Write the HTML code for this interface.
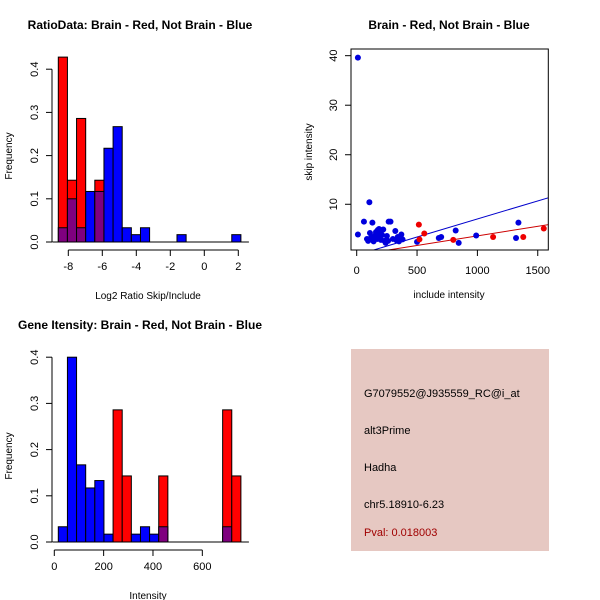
<!DOCTYPE html>
<html><head><meta charset="utf-8"><style>
body{margin:0;background:#fff}
svg{display:block;font-family:"Liberation Sans",sans-serif}
</style></head><body>
<svg id="c" width="600" height="600" viewBox="0 0 600 600">
<rect width="600" height="600" fill="#fff"/>
<g id="p1"></g>
<g id="p2"></g>
<g id="p3"></g>
<g>
<rect x="351" y="349" width="198" height="202" fill="#e6c8c2"/>
<text x="364" y="397" font-size="11">G7079552@J935559_RC@i_at</text>
<text x="364" y="434" font-size="11">alt3Prime</text>
<text x="364" y="471" font-size="11">Hadha</text>
<text x="364" y="508" font-size="11">chr5.18910-6.23</text>
<text x="364" y="536" font-size="11" fill="#a00000">Pval: 0.018003</text>
</g>
</svg>
<script>
// Ratio histogram data (20 bins)
const ratioRed = [0.428,0.143,0.286,0,0.143,0,0,0,0,0,0,0,0,0,0,0,0,0,0,0];
const ratioBlue = [0.033,0.1,0.033,0.117,0.117,0.217,0.267,0.033,0.017,0.033,0,0,0,0.017,0,0,0,0,0,0.017];
const ratioXTicks = [-8,-6,-4,-2,0,2];
const freqTicks1 = [0.0,0.1,0.2,0.3,0.4];
// Intensity histogram data (20 bins)
const intRed = [0,0,0,0,0,0,0.286,0.143,0,0,0,0.143,0,0,0,0,0,0,0.286,0.143];
const intBlue = [0.033,0.4,0.167,0.117,0.133,0.017,0,0,0.017,0.033,0.017,0.033,0,0,0,0,0,0,0.033,0];
const intXTicks = [0,200,400,600];
const freqTicks3 = [0.0,0.1,0.2,0.3,0.4];
// Scatter data
const blueX = [10,10,60,105,130,265,85,95,110,120,140,150,160,170,175,180,185,190,200,210,220,230,240,250,260,280,300,320,330,340,350,370,380,140,200,160,500,680,700,820,845,990,1320,1340];
const blueY = [39.6,3.9,6.5,10.4,6.3,6.5,3.0,2.6,4.2,3.3,2.8,3.6,4.4,3.0,4.8,3.9,5.0,3.4,4.7,3.8,4.9,2.6,2.2,3.6,2.6,6.5,3.0,4.6,2.7,3.4,2.5,3.9,2.9,2.5,2.8,4.0,2.4,3.2,3.4,4.7,2.2,3.7,3.2,6.3];
const redX = [515,520,560,800,1130,1380,1550];
const redY = [5.9,2.9,4.1,2.8,3.4,3.4,5.1];
const blueLine = [-0.26,0.00729];
const redLine = [-0.25,0.00387];
const scXTicks = [0,500,1000,1500];
const scYTicks = [10,20,30,40];

const NS="http://www.w3.org/2000/svg";
function mk(parent,tag,attrs){const e=document.createElementNS(NS,tag);for(const k in attrs)e.setAttribute(k,attrs[k]);parent.appendChild(e);return e;}
function txt(parent,x,y,s,size,extra){const t=mk(parent,'text',Object.assign({x:x,y:y,'font-size':size,'text-anchor':'middle'},extra||{}));t.textContent=s;return t;}

function hist(g,red,blue,x0,bw,yBase,pxPer01,xt,xScale,yt,title,xlabel,axisY){
  txt(g,140,29,title,12,{'font-weight':'bold'});
  for(let i=0;i<red.length;i++){
    const r=red[i],b=blue[i],m=Math.min(r,b),x=x0+i*bw;
    const h=v=>v/0.1*pxPer01;
    if(r>b){const e=mk(g,'rect',{x:x,y:yBase-h(r),width:bw,height:h(r),fill:'#ff0000',stroke:'#000','stroke-width':1});
      }
    else if(b>0){const e=mk(g,'rect',{x:x,y:yBase-h(b),width:bw,height:h(b),fill:'#0000ff',stroke:'#000','stroke-width':1});
      }
    if(m>0){const e=mk(g,'rect',{x:x,y:yBase-h(m),width:bw,height:h(m),fill:'#7f007f',stroke:'#000','stroke-width':1});
      }
  }
  mk(g,'line',{x1:x0-6,x2:x0+red.length*bw+8,y1:yBase,y2:yBase,stroke:'#000'});
  // y axis
  const ya=mk(g,'g',{});
  mk(ya,'line',{x1:52,x2:52,y1:yBase,y2:yBase-yt[yt.length-1]/0.1*pxPer01,stroke:'#000'});
  yt.forEach(v=>{const y=yBase-v/0.1*pxPer01;mk(ya,'line',{x1:46,x2:52,y1:y,y2:y,stroke:'#000'});
    txt(ya,0,0,v.toFixed(1),11,{transform:`translate(38,${y}) rotate(-90)`});});
  txt(g,0,0,'Frequency',10,{transform:`translate(12,${yBase-86}) rotate(-90)`});
  const xa=mk(g,'g',{});
  mk(xa,'line',{x1:xScale(xt[0]),x2:xScale(xt[xt.length-1]),y1:axisY,y2:axisY,stroke:'#000'});
  xt.forEach(v=>{const x=xScale(v);mk(xa,'line',{x1:x,x2:x,y1:axisY,y2:axisY+6,stroke:'#000'});txt(xa,x,axisY+20,String(v),11);});
  txt(g,148,axisY+49,xlabel,10);
}
// Panel 1
const g1=document.getElementById('p1');
hist(g1,ratioRed,ratioBlue,58.3,9.13,242,43.2,ratioXTicks,v=>68.3+(v+8)*17,freqTicks1,'RatioData: Brain - Red, Not Brain - Blue','Log2 Ratio Skip/Include',250);
// Panel 3
const g3=document.getElementById('p3');
const g3b=mk(g3,'g',{transform:'translate(0,300)'});
hist(g3b,intRed,intBlue,58.3,9.13,242,46.2,intXTicks,v=>54.3+v*0.2467,freqTicks3,'Gene Itensity: Brain - Red, Not Brain - Blue','Intensity',250);

// Panel 2 scatter
const g2=document.getElementById('p2');
const sx=v=>356.7+v*0.1207, sy=v=>253.8-v*4.953;
txt(g2,449,29,'Brain - Red, Not Brain - Blue',12,{'font-weight':'bold'});
const clip=mk(g2,'clipPath',{id:'cp'});mk(clip,'rect',{x:351,y:49,width:197.3,height:201});
const inner=mk(g2,'g',{'clip-path':'url(#cp)'});
[[blueLine,'#0000cc','fit-line-blue'],[redLine,'#cc0000','fit-line-red']].forEach(([c,col,n])=>{
  const l=mk(inner,'line',{x1:sx(0),y1:sy(c[0]),x2:sx(1700),y2:sy(c[0]+c[1]*1700),stroke:col,'stroke-width':1});
  });
blueX.forEach((x,i)=>{const c=mk(inner,'circle',{cx:sx(x),cy:sy(blueY[i]),r:3,fill:'#0000dd'});
  });
redX.forEach((x,i)=>{const c=mk(inner,'circle',{cx:sx(x),cy:sy(redY[i]),r:3,fill:'#ee0000'});
  });
mk(g2,'rect',{x:351,y:49,width:197.3,height:201,fill:'none',stroke:'#000'});
const xa2=mk(g2,'g',{});
scXTicks.forEach(v=>{const x=sx(v);mk(xa2,'line',{x1:x,x2:x,y1:250,y2:256,stroke:'#000'});txt(xa2,x,274,String(v),11);});
const ya2=mk(g2,'g',{});
scYTicks.forEach(v=>{const y=sy(v);mk(ya2,'line',{x1:345,x2:351,y1:y,y2:y,stroke:'#000'});
  txt(ya2,0,0,String(v),11,{transform:`translate(337,${y}) rotate(-90)`});});
txt(g2,449,298,'include intensity',10);
txt(g2,0,0,'skip intensity',10,{transform:'translate(312,152) rotate(-90)'});
</script>
</body></html>
